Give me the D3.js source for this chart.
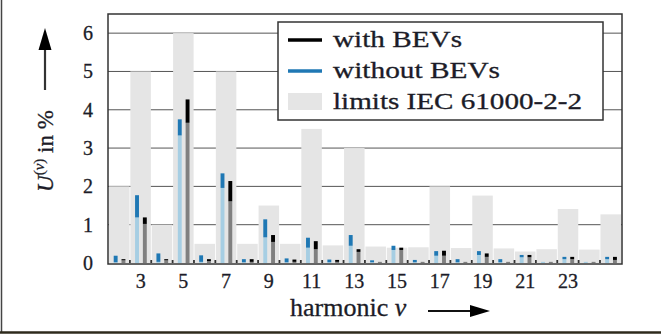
<!DOCTYPE html>
<html>
<head>
<meta charset="utf-8">
<script src="https://cdn.jsdelivr.net/npm/d3@7"></script>
<style>
  body { margin: 0; background: #fff; }
  text { font-family: "Liberation Serif", "DejaVu Serif", serif; fill: #1c1c28; stroke: #1c1c28; stroke-width: 0.3; }
</style>
</head>
<body>
<script>
// harmonic orders and the IEC 61000-2-2 compatibility levels in %
const harmonics = d3.range(2, 26);
const limits = [2, 5, 1, 6, 0.5, 5, 0.5, 1.5, 0.5, 3.5, 0.46, 3, 0.43, 0.4, 0.41, 2, 0.39, 1.76, 0.38, 0.3, 0.36, 1.41, 0.35, 1.27];

// measured ranges (lower end / upper end) of U(v) in %
const withoutLow  = [0.02, 1.19, 0.03, 3.33, 0.03, 1.96, 0.02, 0.67, 0.02, 0.40, 0.02, 0.45, 0.02, 0.34, 0.02, 0.19, 0.02, 0.21, 0.02, 0.15, 0.03, 0.10, 0.03, 0.10];
const withoutHigh = [0.19, 1.77, 0.25, 3.75, 0.20, 2.34, 0.10, 1.14, 0.12, 0.66, 0.09, 0.73, 0.07, 0.45, 0.08, 0.31, 0.10, 0.31, 0.10, 0.21, 0.03, 0.16, 0.03, 0.16];
const withLow     = [0.07, 1.02, 0.07, 3.66, 0.05, 1.61, 0.03, 0.55, 0.03, 0.36, 0.03, 0.29, 0.03, 0.34, 0.03, 0.19, 0.03, 0.16, 0.03, 0.15, 0.03, 0.10, 0.03, 0.08];
const withHigh    = [0.10, 1.19, 0.10, 4.27, 0.10, 2.14, 0.10, 0.73, 0.09, 0.57, 0.08, 0.36, 0.03, 0.40, 0.03, 0.32, 0.03, 0.25, 0.03, 0.21, 0.03, 0.16, 0.03, 0.16];

const xTicks = [3, 5, 7, 9, 11, 13, 15, 17, 19, 21, 23];
const yTicks = [0, 1, 2, 3, 4, 5, 6];

const width = 661, height = 335;
const plot = { left: 108, top: 14, right: 622, bottom: 264 };

const svg = d3.select("body").append("svg")
    .attr("width", width).attr("height", height);

// outer frame of the figure
svg.append("line").attr("x1", 1.5).attr("x2", 1.5).attr("y1", 0).attr("y2", 333)
    .attr("stroke", "#444").attr("stroke-width", 1.5);
svg.append("line").attr("x1", 0).attr("x2", width).attr("y1", 332.5).attr("y2", 332.5)
    .attr("stroke", "#2e2a1c").attr("stroke-width", 2.5);

let x = d3.scaleBand().domain(harmonics).range([109, 621]).paddingInner(0.04);
let x1 = d3.scaleBand().domain(["without", "with"]).range([-7.5, 8.1]).paddingInner(0.5).paddingOuter(0.25);
let y = d3.scaleLinear().domain([0, 6.5]).range([263, plot.top]);
const cx = h => x(h) + x.bandwidth() / 2;

// grid
svg.append("g").selectAll("line")
    .data(yTicks.slice(1))
    .enter().append("line")
      .attr("x1", plot.left).attr("x2", plot.right)
      .attr("y1", d => y(d)).attr("y2", d => y(d))
      .attr("stroke", "#555").attr("stroke-width", 1);

// limit bars
svg.append("g").selectAll("rect")
    .data(harmonics)
    .enter().append("rect")
      .attr("x", d => x(d))
      .attr("y", (d, i) => y(limits[i]))
      .attr("width", x.bandwidth())
      .attr("height", (d, i) => y(0) - y(limits[i]))
      .attr("fill", "#e5e5e5");

// small boundary ticks along the bottom
svg.append("g").selectAll("line")
    .data(harmonics.slice(1))
    .enter().append("line")
      .attr("x1", d => x(d) - 0.5).attr("x2", d => x(d) - 0.5)
      .attr("y1", y(0)).attr("y2", y(0) - 3)
      .attr("stroke", "#333").attr("stroke-width", 1.8);

function rangeBars(key, low, high, light, dark) {
  const g = svg.append("g");
  g.selectAll(".lo")
    .data(harmonics)
    .enter().append("rect")
      .attr("x", d => cx(d) + x1(key))
      .attr("y", (d, i) => y(low[i]))
      .attr("width", x1.bandwidth())
      .attr("height", (d, i) => y(0) - y(low[i]))
      .attr("fill", light);
  g.selectAll(".hi")
    .data(harmonics)
    .enter().append("rect")
      .attr("x", d => cx(d) + x1(key))
      .attr("y", (d, i) => y(high[i]))
      .attr("width", x1.bandwidth())
      .attr("height", (d, i) => y(low[i]) - y(high[i]))
      .attr("fill", dark);
}
rangeBars("without", withoutLow, withoutHigh, "#a6cee3", "#1f78b4");
rangeBars("with", withLow, withHigh, "#808080", "#000");

// frame of the axis
svg.append("rect")
    .attr("x", plot.left).attr("y", plot.top)
    .attr("width", plot.right - plot.left).attr("height", plot.bottom - plot.top)
    .attr("fill", "none").attr("stroke", "#333").attr("stroke-width", 1.5);

// tick labels
svg.append("g").selectAll("text")
    .data(yTicks)
    .enter().append("text")
      .attr("x", 93).attr("y", d => y(d) + 7)
      .attr("text-anchor", "end")
      .style("font-size", "20px")
      .text(d => d);

svg.append("g").selectAll("text")
    .data(xTicks)
    .enter().append("text")
      .attr("x", d => cx(d)).attr("y", 288)
      .attr("text-anchor", "middle")
      .style("font-size", "20px")
      .text(d => d);

// x label with arrow to the right
const xl = svg.append("text").attr("x", 290).attr("y", 316)
    .style("font-size", "26px");
xl.append("tspan").text("harmonic ");
xl.append("tspan").style("font-style", "italic").text("ν");
svg.append("line").attr("x1", 428).attr("x2", 472).attr("y1", 311).attr("y2", 311)
    .attr("stroke", "#111").attr("stroke-width", 2.2);
svg.append("path").attr("d", "M490,311 L470,305 L470,317 Z").attr("fill", "#000");

// y label with arrow upward
const yl = svg.append("text")
    .attr("transform", "translate(53,151) rotate(-90)")
    .attr("text-anchor", "middle")
    .style("font-size", "23px");
yl.append("tspan").style("font-style", "italic").text("U");
yl.append("tspan").attr("dy", -9).style("font-size", "15px").text("(");
yl.append("tspan").style("font-size", "15px").style("font-style", "italic").text("ν");
yl.append("tspan").style("font-size", "15px").text(")");
yl.append("tspan").attr("dy", 9).text(" in %");
svg.append("line").attr("x1", 45).attr("x2", 45).attr("y1", 90).attr("y2", 46)
    .attr("stroke", "#333").attr("stroke-width", 2.2);
svg.append("path").attr("d", "M45,28 L38.5,50 L51.5,50 Z").attr("fill", "#000");

// legend
const legend = svg.append("g");
legend.append("rect")
    .attr("x", 278).attr("y", 22).attr("width", 325).attr("height", 98)
    .attr("fill", "#fff").attr("stroke", "#333").attr("stroke-width", 1.5);
const legendItems = [
  { label: "with BEVs", color: "#000", kind: "line", w: 129 },
  { label: "without BEVs", color: "#1f78b4", kind: "line", w: 167 },
  { label: "limits IEC 61000-2-2", color: "#e5e5e5", kind: "box", w: 249 }
];
legendItems.forEach((d, i) => {
  const yy = 40 + i * 31;
  if (d.kind === "line") {
    legend.append("line").attr("x1", 288).attr("x2", 322).attr("y1", yy).attr("y2", yy)
        .attr("stroke", d.color).attr("stroke-width", 3.5);
  } else {
    legend.append("rect").attr("x", 288).attr("y", yy - 9).attr("width", 34).attr("height", 17)
        .attr("fill", d.color);
  }
  legend.append("text")
      .attr("x", 333).attr("y", yy + 7)
      .attr("textLength", d.w).attr("lengthAdjust", "spacingAndGlyphs")
      .style("font-size", "23px")
      .text(d.label);
});
</script>
</body>
</html>
